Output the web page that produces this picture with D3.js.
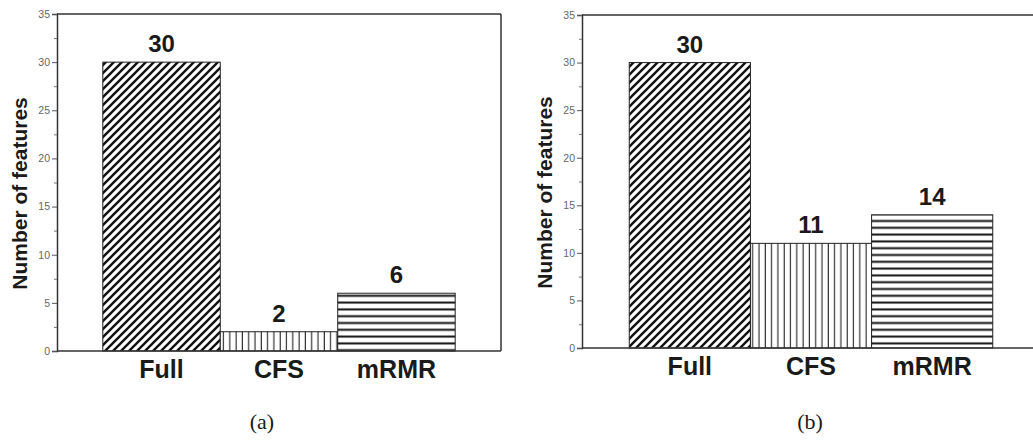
<!DOCTYPE html>
<html>
<head>
<meta charset="utf-8">
<script src="https://cdn.jsdelivr.net/npm/d3@7"></script>
<style>
    body { margin: 0; background: #fff; }
    svg { display: block; }
    .tick text { font-family: Arial, "Liberation Sans", sans-serif; fill: #666; }
</style>
</head>
<body>
<svg width="1033" height="440"></svg>
<script>
// data
var categories = ['Full', 'CFS', 'mRMR']
var valuesA = [30, 2, 6]
var valuesB = [30, 11, 14]
var patterns = ['diag', 'vert', 'horiz']
var majorTicks = [0, 5, 10, 15, 20, 25, 30, 35]
var minorTicks = [2.5, 7.5, 12.5, 17.5, 22.5, 27.5, 32.5]
var panelLabels = ['(a)', '(b)']

var svg = d3.select('svg')
var defs = svg.append('defs')

// hatch fills
var diag = defs.append('pattern')
    .attr('id', 'diag')
    .attr('patternUnits', 'userSpaceOnUse')
    .attr('width', 8)
    .attr('height', 8)
diag.append('rect').attr('width', 8).attr('height', 8).style('fill', '#fff')
diag.append('path')
    .attr('d', 'M-2,2 L2,-2 M0,8 L8,0 M6,10 L10,6')
    .style('stroke', '#111')
    .style('stroke-width', 2.4)

var vert = defs.append('pattern')
    .attr('id', 'vert')
    .attr('patternUnits', 'userSpaceOnUse')
    .attr('width', 6.3)
    .attr('height', 10)
vert.append('rect').attr('width', 6.3).attr('height', 10).style('fill', '#fff')
vert.append('line')
    .attr('x1', 3).attr('x2', 3).attr('y1', 0).attr('y2', 10)
    .style('stroke', '#222')
    .style('stroke-width', 1.1)

var horiz = defs.append('pattern')
    .attr('id', 'horiz')
    .attr('patternUnits', 'userSpaceOnUse')
    .attr('width', 10)
    .attr('height', 6.8)
horiz.append('rect').attr('width', 10).attr('height', 6.8).style('fill', '#fff')
horiz.append('line')
    .attr('x1', 0).attr('x2', 10).attr('y1', 3.4).attr('y2', 3.4)
    .style('stroke', '#111')
    .style('stroke-width', 2)

function drawPanel(values, box, label) {
    var x = d3.scaleBand()
        .domain(categories)
        .range([box.left, box.right])
        .paddingInner(0)
        .paddingOuter(box.outer)

    var y = d3.scaleLinear()
        .domain([0, 35])
        .range([box.bottom, box.top])

    var g = svg.append('g')

    // bars
    g.selectAll('rect.bar')
        .data(values)
        .enter()
        .append('rect')
        .attr('class', 'bar')
        .attr('x', (d, i) => x(categories[i]))
        .attr('y', d => y(d))
        .attr('width', x.bandwidth())
        .attr('height', d => y(0) - y(d))
        .style('fill', (d, i) => 'url(#' + patterns[i] + ')')
        .style('stroke', '#222')
        .style('stroke-width', 1)

    // value labels
    g.selectAll('text.val')
        .data(values)
        .enter()
        .append('text')
        .attr('class', 'val')
        .attr('x', (d, i) => x(categories[i]) + x.bandwidth() / 2)
        .attr('y', d => y(d) - 10)
        .attr('text-anchor', 'middle')
        .style('font-family', 'Arial, "Liberation Sans", sans-serif')
        .style('font-weight', 'bold')
        .style('font-size', '24px')
        .style('fill', '#1a1a1a')
        .text(d => d)

    // frame
    g.append('line')
        .attr('x1', box.left).attr('x2', box.right)
        .attr('y1', box.top).attr('y2', box.top)
        .style('stroke', '#333').style('stroke-width', 1.5)
    g.append('line')
        .attr('x1', box.right).attr('x2', box.right)
        .attr('y1', box.top).attr('y2', box.bottom)
        .style('stroke', '#333').style('stroke-width', 1.5)
    g.append('line')
        .attr('x1', box.left).attr('x2', box.right)
        .attr('y1', box.bottom).attr('y2', box.bottom)
        .style('stroke', '#333').style('stroke-width', 1.5)

    // y axis, major and minor ticks
    var ax = g.append('g')
        .attr('transform', 'translate(' + box.left + ',0)')
        .call(d3.axisLeft(y).tickValues(majorTicks).tickSize(5).tickPadding(2))
    ax.select('.domain').style('stroke', '#333').style('stroke-width', 1.5)
    ax.selectAll('.tick line').style('stroke', '#555')
    ax.selectAll('.tick text').style('font-size', '10.5px')

    g.append('g')
        .attr('transform', 'translate(' + box.left + ',0)')
        .call(d3.axisLeft(y).tickValues(minorTicks).tickSize(3).tickFormat(''))
        .call(s => s.select('.domain').remove())
        .selectAll('.tick line').style('stroke', '#777')

    // category labels
    g.selectAll('text.cat')
        .data(categories)
        .enter()
        .append('text')
        .attr('class', 'cat')
        .attr('x', d => x(d) + x.bandwidth() / 2)
        .attr('y', box.bottom + 27)
        .attr('text-anchor', 'middle')
        .style('font-family', 'Arial, "Liberation Sans", sans-serif')
        .style('font-weight', 'bold')
        .style('font-size', '25px')
        .style('fill', '#1a1a1a')
        .text(d => d)

    // y title
    g.append('text')
        .attr('transform', 'translate(' + box.titleX + ',' + ((box.top + box.bottom) / 2 + 11) + ') rotate(-90)')
        .attr('text-anchor', 'middle')
        .style('font-family', 'Arial, "Liberation Sans", sans-serif')
        .style('font-weight', 'bold')
        .style('font-size', '21px')
        .style('fill', '#1a1a1a')
        .text('Number of features')

    // panel caption
    g.append('text')
        .attr('x', box.captionX)
        .attr('y', 429)
        .attr('text-anchor', 'middle')
        .style('font-family', '"Liberation Serif", "DejaVu Serif", serif')
        .style('font-size', '22px')
        .style('fill', '#1a1a1a')
        .text(label)
}

drawPanel(valuesA, { left: 57, right: 501, top: 14, bottom: 351, outer: 0.39, titleX: 27, captionX: 262 }, panelLabels[0])
drawPanel(valuesB, { left: 582, right: 1040, top: 15, bottom: 348, outer: 0.39, titleX: 552, captionX: 810 }, panelLabels[1])
</script>
</body>
</html>
